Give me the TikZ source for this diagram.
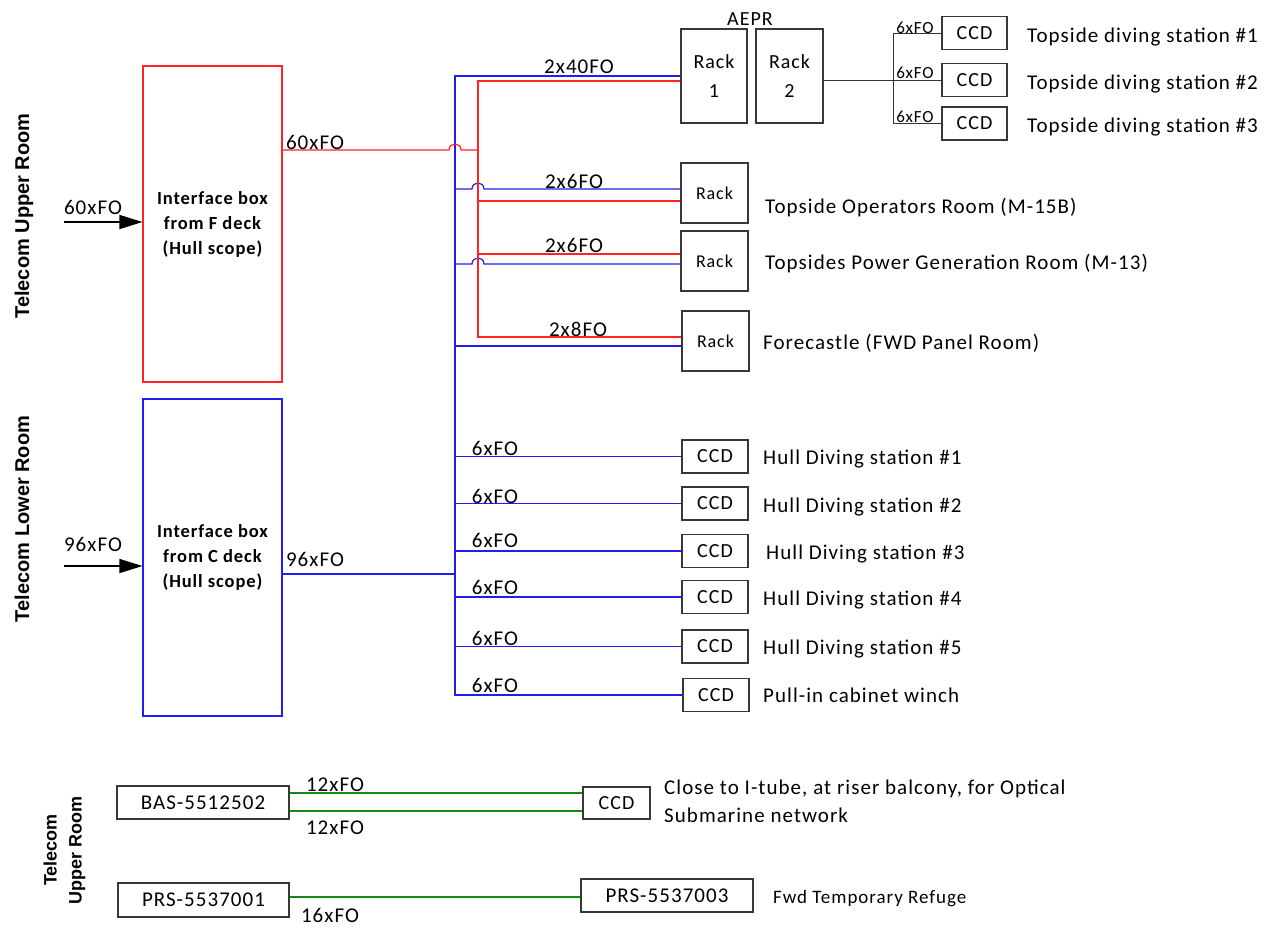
\documentclass[tikz,border=0pt]{standalone}
\usepackage{fontspec}
\setmainfont{Carlito}[LetterSpace=5]
\newfontfamily\rotfont{Liberation Sans}
\usetikzlibrary{arrows.meta}
\definecolor{cred}{HTML}{FF2424}
\definecolor{cblue}{HTML}{1E1EEE}
\definecolor{cgreen}{HTML}{138A13}
\definecolor{cbox}{HTML}{383838}
\begin{document}
\begin{tikzpicture}[x=1pt,y=-1pt,
  box/.style={draw=cbox, line width=1.1pt, inner sep=0pt, align=center, font=\fontsize{20}{24}\selectfont},
  ccdbox/.style={box, minimum width=66pt, minimum height=33pt},
  rackbox/.style={box, minimum width=67pt, minimum height=60pt, font=\fontsize{18}{22}\selectfont},
  lbl/.style={inner sep=0pt, font=\fontsize{21}{28}\selectfont},
  small/.style={inner sep=0pt, font=\fontsize{17}{20}\selectfont},
  rline/.style={draw=cred, line width=1.2pt},
  bline/.style={draw=cblue, line width=1.2pt},
  gline/.style={draw=cgreen, line width=1.4pt},
  kline/.style={draw=black!80, line width=1pt},
  inarrow/.style={draw=black, line width=1.3pt, -{Triangle[length=23pt,width=14pt]}},
  rotl/.style={inner sep=0pt, rotate=90, align=center, font=\rotfont\bfseries\fontsize{20}{25}\selectfont},
]
\useasboundingbox (0,0) rectangle (1277,927);

% side labels
\node[rotl] (tur) at (24,216) {Telecom Upper Room};
\node[rotl] (tlr) at (22,519) {Telecom Lower Room};
\node[rotl, font=\rotfont\bfseries\fontsize{18}{25}\selectfont] (tur2) at (64.5,850) {Telecom\\Upper Room};

% interface boxes
\node[box, draw=cred, minimum width=139pt, minimum height=316pt, font=\bfseries\fontsize{18.5}{25}\selectfont] (ifF) at (212.5,224) {Interface box\\from F deck\\(Hull scope)};
\node[box, draw=cblue, minimum width=139pt, minimum height=317pt, font=\bfseries\fontsize{18.5}{25}\selectfont] (ifC) at (212.5,557.5) {Interface box\\from C deck\\(Hull scope)};

% AEPR racks
\node[lbl, anchor=base, font=\fontsize{20}{24}\selectfont] (aepr) at (750,25.5) {AEPR};
\node[box, minimum width=66pt, minimum height=94pt, font=\fontsize{20}{29}\selectfont] (rack1) at (714,76) {Rack\\1};
\node[box, minimum width=67pt, minimum height=94pt, font=\fontsize{20}{29}\selectfont] (rack2) at (789.5,76) {Rack\\2};

% topside CCDs
\node[ccdbox, minimum width=65pt] (tccd1) at (974.5,33) {CCD};
\node[ccdbox, minimum width=65pt] (tccd2) at (974.5,80) {CCD};
\node[ccdbox, minimum width=65pt] (tccd3) at (974.5,123.5) {CCD};
\node[lbl, anchor=base west] (tds1) at (1027,42) {Topside diving station \#1};
\node[lbl, anchor=base west] (tds2) at (1027,89) {Topside diving station \#2};
\node[lbl, anchor=base west] (tds3) at (1027,132) {Topside diving station \#3};

% racks
\node[rackbox] (rackop) at (714.5,193) {Rack};
\node[rackbox] (rackpg) at (714.5,261) {Rack};
\node[rackbox] (rackfc) at (715.5,341) {Rack};
\node[lbl, anchor=base west] (tor) at (765,213) {Topside Operators Room (M-15B)};
\node[lbl, anchor=base west] (tpg) at (765,269) {Topsides Power Generation Room (M-13)};
\node[lbl, anchor=base west] (tfc) at (763,349) {Forecastle (FWD Panel Room)};

% hull CCDs
\node[ccdbox] (hccd1) at (715,456.5) {CCD};
\node[ccdbox] (hccd2) at (715,503.5) {CCD};
\node[ccdbox] (hccd3) at (715,551) {CCD};
\node[ccdbox] (hccd4) at (715,597) {CCD};
\node[ccdbox] (hccd5) at (715,646.5) {CCD};
\node[ccdbox] (hccd6) at (716,695) {CCD};
\node[lbl, anchor=base west] (hds1) at (763,464) {Hull Diving station \#1};
\node[lbl, anchor=base west] (hds2) at (763,512) {Hull Diving station \#2};
\node[lbl, anchor=base west] (hds3) at (766,559) {Hull Diving station \#3};
\node[lbl, anchor=base west] (hds4) at (763,605) {Hull Diving station \#4};
\node[lbl, anchor=base west] (hds5) at (763,654) {Hull Diving station \#5};
\node[lbl, anchor=base west] (pull) at (763,702) {Pull-in cabinet winch};

% bottom section
\node[box, minimum width=172pt, minimum height=33pt, font=\fontsize{21}{24}\selectfont] (bas) at (203,802.5) {BAS-5512502};
\node[box, minimum width=171pt, minimum height=34pt, font=\fontsize{21}{24}\selectfont] (prs1) at (203.5,900) {PRS-5537001};
\node[box, minimum width=67pt, minimum height=32pt] (ccdb) at (616.5,803) {CCD};
\node[box, minimum width=172pt, minimum height=33pt, font=\fontsize{21}{24}\selectfont] (prs3) at (667,895.5) {PRS-5537003};
\node[lbl, anchor=west, align=left] (close) at (664,801) {Close to I-tube, at riser balcony, for Optical\\Submarine network};
\node[lbl, anchor=base west, font=\fontsize{19}{24}\selectfont] (fwd) at (773,903.5) {Fwd Temporary Refuge};

% coordinates
\coordinate (bt) at (455,76);
\coordinate (bb) at (455,695);
\coordinate (bj) at (455,574);
\coordinate (rt) at (478,81);
\coordinate (rb) at (478,337);
\coordinate (tj) at (893,80);
\coordinate (in1) at (64,222);
\coordinate (in2) at (64,566);

% input arrows
\draw[inarrow] (in1) -- (ifF.west |- in1);
\draw[inarrow] (in2) -- (ifC.west |- in2);

% blue network
\draw[bline] (rack1.west |- bt) -- (bt) -- (bb) -- (hccd6.west |- bb);
\draw[bline] (ifC.east |- bj) -- (bj);
\draw[bline] (455,189) -- (472,189) .. controls (472,181) and (484,181) .. (484,189) -- (rackop.west |- 0,189);
\draw[bline] (455,264) -- (472,264) .. controls (472,256) and (484,256) .. (484,264) -- (rackpg.west |- 0,264);
\draw[bline] (455,346) -- (rackfc.west |- 0,346);
\foreach \n in {1,...,5} \draw[bline] (bt |- hccd\n.west) -- (hccd\n.west);

% red network
\draw[rline] (ifF.east |- 0,150) -- (449,150) .. controls (449,142) and (461,142) .. (461,150) -- (478,150);
\draw[rline] (rack1.west |- rt) -- (rt) -- (rb) -- (rackfc.west |- rb);
\draw[rline] (478,201) -- (rackop.west |- 0,201);
\draw[rline] (478,254) -- (rackpg.west |- 0,254);

% topside black
\draw[kline] (rack2.east |- tccd2.west) -- (tccd2.west);
\draw[kline] (tccd1.west) -- (tccd1.west -| tj) -- (tccd3.west -| tj) -- (tccd3.west);

% green
\draw[gline] (bas.east |- 0,793) -- (ccdb.west |- 0,793);
\draw[gline] (bas.east |- 0,811) -- (ccdb.west |- 0,811);
\draw[gline] (prs1.east |- 0,897) -- (prs3.west |- 0,897);

% connector labels
\node[lbl, anchor=base] (l60in) at (93,214) {60xFO};
\node[lbl, anchor=base] (l96in) at (93,551) {96xFO};
\node[lbl, anchor=base] (l60) at (315,149) {60xFO};
\node[lbl, anchor=base] (l96) at (315,566) {96xFO};
\node[lbl, anchor=base] (l240) at (579,73) {2x40FO};
\node[lbl, anchor=base] (l26a) at (574,188) {2x6FO};
\node[lbl, anchor=base] (l26b) at (574,252) {2x6FO};
\node[lbl, anchor=base] (l28) at (578,336) {2x8FO};
\node[lbl, anchor=base] (h1) at (495,455) {6xFO};
\node[lbl, anchor=base] (h2) at (495,503) {6xFO};
\node[lbl, anchor=base] (h3) at (495,547) {6xFO};
\node[lbl, anchor=base] (h4) at (495,594) {6xFO};
\node[lbl, anchor=base] (h5) at (495,645) {6xFO};
\node[lbl, anchor=base] (h6) at (495,692) {6xFO};
\node[small, anchor=base] (t1) at (915,33) {6xFO};
\node[small, anchor=base] (t2) at (915,78) {6xFO};
\node[small, anchor=base] (t3) at (915,122) {6xFO};
\node[lbl, anchor=base] (g1) at (335,791) {12xFO};
\node[lbl, anchor=base] (g2) at (335,834) {12xFO};
\node[lbl, anchor=base] (g3) at (330,922) {16xFO};
\end{tikzpicture}
\end{document}
